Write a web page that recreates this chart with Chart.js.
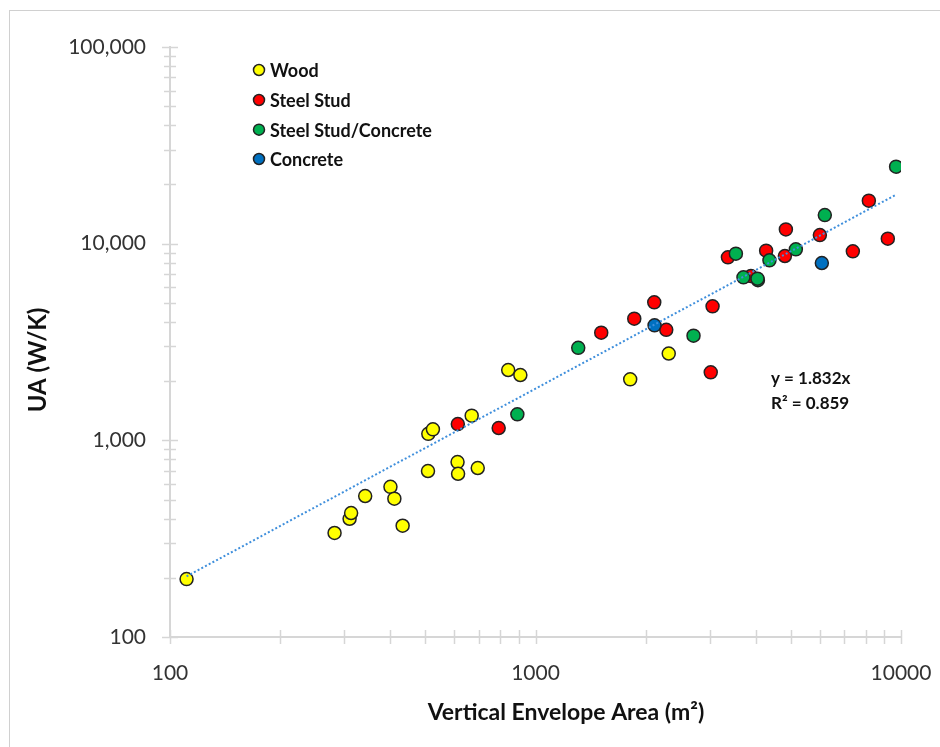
<!DOCTYPE html>
<html>
<head>
<meta charset="utf-8">
<script src="https://cdn.jsdelivr.net/npm/chart.js@4.4.1/dist/chart.umd.min.js"></script>
<style>
  html, body { margin: 0; padding: 0; background: #fff; }
  #wrap { position: relative; width: 940px; height: 747px; }
</style>
</head>
<body>
<div id="wrap"><canvas id="chart" width="940" height="747"></canvas></div>
<script>
// Envelope area (m2) vs. UA (W/K), by wall type
const woodX = [111, 282, 310, 313, 342, 401, 411, 433, 508, 509, 524, 612, 614, 669, 695, 842, 909, 1816, 2315];
const woodY = [197, 338, 399, 427, 521, 580, 505, 368, 698, 1079, 1137, 775, 676, 1335, 723, 2278, 2148, 2042, 2763];

const steelX = [613, 793, 1513, 1863, 2113, 2279, 3051, 3016, 3361, 3885, 4276, 4842, 4812, 5998, 7383, 8166, 9203];
const steelY = [1209, 1155, 3528, 4156, 5030, 3646, 4800, 2217, 8519, 6843, 9214, 11821, 8650, 11058, 9140, 16544, 10602];

const steelConcX = [892, 1309, 2706, 3534, 3707, 4060, 4049, 4366, 5156, 6188, 9696];
const steelConcY = [1356, 2953, 3407, 8897, 6740, 6520, 6639, 8225, 9355, 13978, 24637];

const concreteX = [2117, 6073];
const concreteY = [3842, 7970];

const seriesNames = ['Wood', 'Steel Stud', 'Steel Stud/Concrete', 'Concrete'];
const seriesColors = ['#ffff00', '#ff0000', '#00b050', '#0070c0'];

// linear fit through the origin
const trendSlope = 1.832;
const trendLabel = ['y = 1.832x', 'R\u00b2 = 0.859'];

const xLabelValues = [100, 1000, 10000];
const xLabelText = ['100', '1000', '10000'];
const yLabelValues = [100, 1000, 10000, 100000];
const yLabelText = ['100', '1,000', '10,000', '100,000'];

// minor ticks at 1..9 of each decade
function decadeTicks(from, to) {
  const out = [];
  for (let d = from; d < to; d *= 10) {
    for (let k = 1; k < 10; k++) out.push(k * d);
  }
  out.push(to);
  return out;
}
const xTickValues = decadeTicks(100, 10000);
const yTickValues = decadeTicks(100, 100000);

const toPoints = (xs, ys) => xs.map((x, i) => ({ x: x, y: ys[i] }));

const allX = woodX.concat(steelX, steelConcX, concreteX);
const trendX = [Math.min(...allX), Math.max(...allX)];
const trendData = trendX.map(x => ({ x: x, y: trendSlope * x }));

const AXIS_GRAY = '#d6d6d6';
const FONT = 'Lato';

const chartDecor = {
  id: 'chartDecor',
  beforeDraw(chart) {
    const ctx = chart.ctx;
    ctx.save();
    ctx.fillStyle = '#fff';
    ctx.fillRect(0, 0, chart.width, chart.height);
    ctx.strokeStyle = '#d0d0d0';
    ctx.lineWidth = 1;
    ctx.strokeRect(9.5, 10.5, 1000, 1000);
    ctx.restore();
  },
  beforeDatasetsDraw(chart) {
    // cross tick marks on both axes
    const { ctx, chartArea, scales } = chart;
    ctx.save();
    ctx.strokeStyle = AXIS_GRAY;
    ctx.lineWidth = 1.5;
    ctx.beginPath();
    xTickValues.forEach(v => {
      const px = Math.round(scales.x.getPixelForValue(v)) + 0.5;
      ctx.moveTo(px, chartArea.bottom - 7);
      ctx.lineTo(px, chartArea.bottom + 7);
    });
    yTickValues.forEach(v => {
      const py = Math.round(scales.y.getPixelForValue(v)) + 0.5;
      const len = yLabelValues.includes(v) ? 8 : 6;
      ctx.moveTo(chartArea.left - len, py);
      ctx.lineTo(chartArea.left + len, py);
    });
    ctx.stroke();
    ctx.restore();
  },
  afterDraw(chart) {
    const ctx = chart.ctx;
    ctx.save();
    ctx.fillStyle = '#111';
    ctx.textBaseline = 'middle';

    // axis titles
    ctx.textAlign = 'center';
    ctx.font = `bold 23px ${FONT}`;
    ctx.fillText('Vertical Envelope Area (m\u00b2)', 566, 713);
    ctx.save();
    ctx.translate(38, 360);
    ctx.rotate(-Math.PI / 2);
    ctx.font = `bold 24px ${FONT}`;
    ctx.fillText('UA (W/K)', 0, 0);
    ctx.restore();

    // fit equation
    ctx.font = `bold 17px ${FONT}`;
    ctx.textAlign = 'left';
    ctx.fillText(trendLabel[0], 771, 379);
    ctx.fillText(trendLabel[1], 771, 404);

    // legend
    const legendY = [70, 100, 129.7, 159];
    seriesNames.forEach((name, i) => {
      ctx.beginPath();
      ctx.arc(259, legendY[i], 5.5, 0, Math.PI * 2);
      ctx.fillStyle = seriesColors[i];
      ctx.fill();
      ctx.lineWidth = 1.5;
      ctx.strokeStyle = '#222';
      ctx.stroke();
      ctx.fillStyle = '#111';
      ctx.font = `bold 18px ${FONT}`;
      ctx.fillText(name, 270, legendY[i] + 1);
    });
    ctx.restore();
  }
};

const pointStyle = (i, order) => ({
  label: seriesNames[i],
  backgroundColor: seriesColors[i],
  borderColor: '#222',
  borderWidth: 1.5,
  pointRadius: 6.5,
  order: order
});

new Chart(document.getElementById('chart'), {
  type: 'scatter',
  data: {
    datasets: [
      {
        label: 'Linear fit',
        data: trendData,
        showLine: true,
        borderColor: '#3f8fdc',
        borderWidth: 2,
        borderDash: [2, 2.2],
        pointRadius: 0,
        fill: false,
        order: 0
      },
      Object.assign({ data: toPoints(woodX, woodY) }, pointStyle(0, 4)),
      Object.assign({ data: toPoints(steelX, steelY) }, pointStyle(1, 3)),
      Object.assign({ data: toPoints(steelConcX, steelConcY) }, pointStyle(2, 2)),
      Object.assign({ data: toPoints(concreteX, concreteY) }, pointStyle(3, 1))
    ]
  },
  options: {
    responsive: false,
    animation: false,
    events: [],
    layout: { padding: { left: 0, top: 47, right: 39, bottom: 0 } },
    plugins: {
      legend: { display: false },
      tooltip: { enabled: false }
    },
    scales: {
      x: {
        type: 'logarithmic',
        min: 100,
        max: 10000,
        afterBuildTicks: s => { s.ticks = xTickValues.map(v => ({ value: v })); },
        afterFit: s => { s.height = 110; s.paddingLeft = 0; s.paddingRight = 0; },
        grid: { display: true, drawOnChartArea: false, drawTicks: false },
        border: { display: true, color: AXIS_GRAY, width: 2 },
        ticks: {
          autoSkip: false,
          maxRotation: 0,
          padding: 24,
          color: '#333',
          font: { family: FONT, size: 21 },
          callback: v => {
            const i = xLabelValues.indexOf(v);
            return i >= 0 ? xLabelText[i] : '';
          }
        }
      },
      y: {
        type: 'logarithmic',
        min: 100,
        max: 100000,
        afterBuildTicks: s => { s.ticks = yTickValues.map(v => ({ value: v })); },
        afterFit: s => { s.width = 170; },
        grid: { display: true, drawOnChartArea: false, drawTicks: false },
        border: { display: true, color: AXIS_GRAY, width: 2 },
        ticks: {
          autoSkip: false,
          padding: 24,
          color: '#333',
          font: { family: FONT, size: 21 },
          callback: v => {
            const i = yLabelValues.indexOf(v);
            return i >= 0 ? yLabelText[i] : '';
          }
        }
      }
    }
  },
  plugins: [chartDecor]
});
</script>
</body>
</html>
